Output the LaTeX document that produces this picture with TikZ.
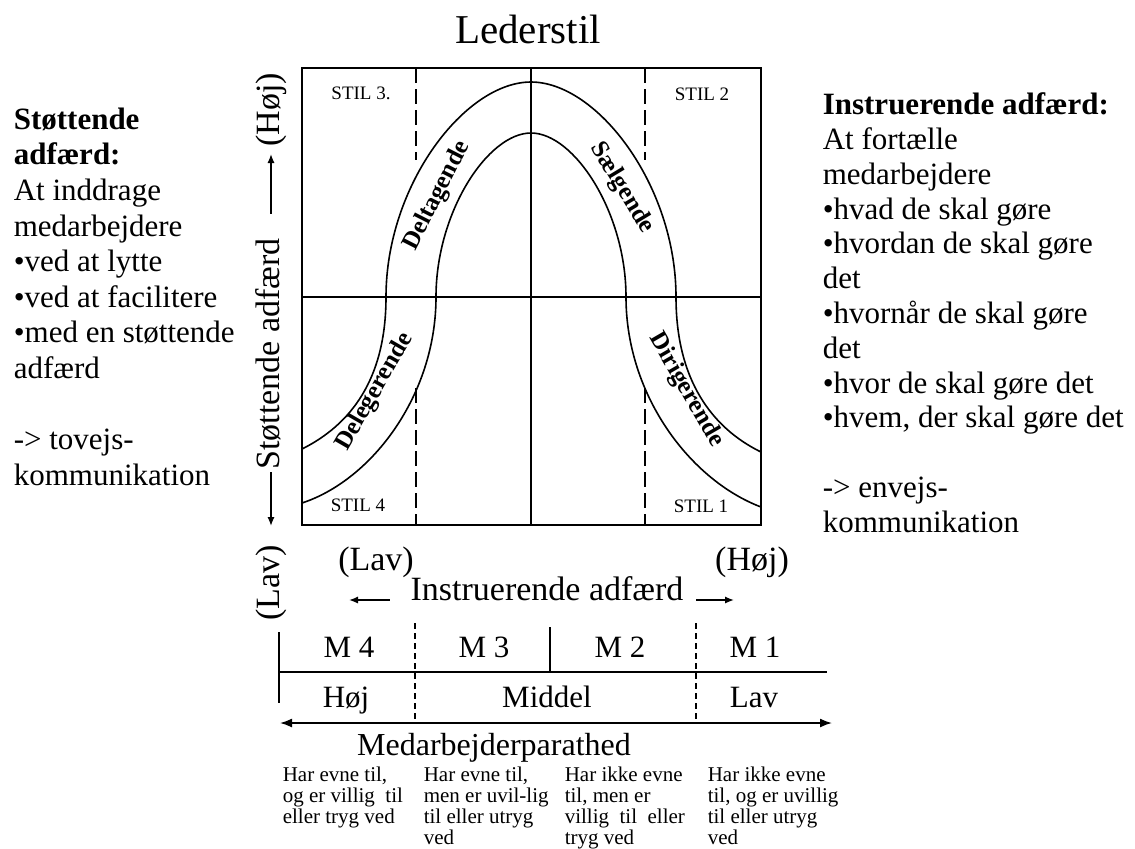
\documentclass[tikz,border=0pt]{standalone}
\usepackage{fontspec}
\setmainfont{Liberation Serif}
\usetikzlibrary{arrows.meta}
\begin{document}
\begin{tikzpicture}[x=.5pt,y=-.5pt,line width=.8pt,
  txt/.style={inner sep=0pt,anchor=base},
  ax/.style={txt,font=\fontsize{17}{20}\selectfont},
  cell/.style={txt,font=\fontsize{15.5}{18}\selectfont},
  band/.style={inner sep=0pt,font=\fontsize{12.5}{14}\selectfont\bfseries},
  stil/.style={txt,font=\fontsize{9.5}{11}\selectfont},
  side/.style={inner sep=0pt,anchor=north west,align=left,font=\fontsize{15.5}{17.8}\selectfont},
  desc/.style={inner sep=0pt,anchor=north west,align=left,font=\fontsize{10.5}{10.6}\selectfont},
  bdash/.style={dash pattern=on 7.5pt off 3pt},
  tdash/.style={line width=.6pt,dash pattern=on 3pt off 2pt},
  arr/.style={-{Latex[length=4.5pt,width=3.6pt]}},
  darr/.style={{Latex[length=6pt,width=4.5pt]}-{Latex[length=6pt,width=4.5pt]}}]
\useasboundingbox (0,0) rectangle (1135,848);
\node[txt,font=\fontsize{20.5}{24}\selectfont] (title) at (528,43) {Lederstil};
% frame and quadrants
\coordinate (tl) at (302,68); \coordinate (br) at (761,525);
\coordinate (ml) at (302,297); \coordinate (mr) at (761,297);
\coordinate (mt) at (531,68); \coordinate (mb) at (531,525);
\draw (tl) rectangle (br);
\draw (ml) -- (mr); \draw (mt) -- (mb);
\foreach \x in {416,645}{\draw[bdash] (\x,68) -- (\x,160); \draw[bdash] (\x,388) -- (\x,525);}
% the band
\coordinate (o1) at (302,449); \coordinate (o2) at (386,297); \coordinate (o3) at (531,82);
\coordinate (o4) at (676,297); \coordinate (o5) at (761,452);
\coordinate (i1) at (302,503); \coordinate (i2) at (436,297); \coordinate (i3) at (531,133);
\coordinate (i4) at (626,297); \coordinate (i5) at (761,507);
\draw (o1) .. controls (350,425) and (386,380) .. (o2) .. controls (386,185) and (465,82) .. (o3)
  .. controls (597,82) and (676,185) .. (o4) .. controls (676,380) and (712,428) .. (o5);
\draw (i1) .. controls (372,480) and (436,395) .. (i2) .. controls (436,212) and (488,133) .. (i3)
  .. controls (574,133) and (626,212) .. (i4) .. controls (626,395) and (690,480) .. (i5);
\node[band,rotate=63] (delt) at (437,196) {Deltagende};
\node[band,rotate=-59] (saelg) at (622,188) {Sælgende};
\node[band,rotate=60] (deleg) at (375,392) {Delegerende};
\node[band,rotate=-60] (dirig) at (686,390) {Dirigerende};
\node[stil] (s3) at (361,99) {STIL 3.};
\node[stil] (s2) at (702,100) {STIL 2};
\node[stil] (s4) at (358,511) {STIL 4};
\node[stil] (s1) at (701,512) {STIL 1};
% vertical axis
\node[ax,rotate=90] (hoejV) at (279,110) {(Høj)};
\node[ax,rotate=90] (stoette) at (279,354) {Støttende adfærd};
\node[ax,rotate=90] (lavV) at (279,583) {(Lav)};
\coordinate (vup) at (271,154); \coordinate (vdn) at (271,526);
\draw[arr,shorten <=12pt] (stoette.east -| vup) -- (vup);
\draw[arr,shorten <=1pt] (stoette.west -| vdn) -- (vdn);
% horizontal axis
\node[ax] (lavH) at (376,570) {(Lav)};
\node[ax] (hoejH) at (752,570) {(Høj)};
\node[ax] (instr) at (547,600) {Instruerende adfærd};
\coordinate (al) at (349,600); \coordinate (ar) at (734,600);
\draw[arr,shorten <=10pt] (instr.base west) -- (al);
\draw[arr,shorten <=6pt] (instr.base east) -- (ar);
% readiness table
\coordinate (ta) at (279,632); \coordinate (tb) at (279,703);
\coordinate (tc) at (279,672); \coordinate (td) at (827,672);
\coordinate (pl) at (280,723); \coordinate (pr) at (832,723);
\draw (ta) -- (tb);
\draw (tc) -- (td);
\draw (550,627) -- (550,672);
\foreach \x in {415,696}{\draw[tdash] (\x,623) -- (\x,723);}
\draw[darr] (pl) -- (pr);
\foreach \m/\x in {4/349,3/484,2/620,1/755}{\node[cell] (m\m) at (\x,657) {M \m};}
\node[cell] (rHoej) at (346,707) {Høj};
\node[cell] (rMid) at (547,707) {Middel};
\node[cell] (rLav) at (754,707) {Lav};
\node[txt,font=\fontsize{16}{19}\selectfont] (parat) at (494,755) {Medarbejderparathed};
\node[desc] (d4) at (282,766) {Har evne til,\\og er villig\ \ til\\eller tryg ved};
\node[desc] (d3) at (423,766) {Har evne til,\\men er uvil-lig\\til\ eller utryg\\ved};
\node[desc] (d2) at (564,766) {Har ikke evne\\til, men er\\villig\ \ til\ \ eller\\tryg ved};
\node[desc] (d1) at (707,766) {Har ikke evne\\til, og er uvillig\\til eller utryg\\ved};
% side texts
\node[side] (stoetTxt) at (13,107) {\textbf{Støttende}\\\textbf{adfærd:}\\At inddrage\\medarbejdere\\•ved at lytte\\•ved at facilitere\\•med en støttende\\adfærd\\[17.8pt]-> tovejs-\\kommunikation};
\node[side,font=\fontsize{15.5}{17.4}\selectfont] (instrTxt) at (822,92) {\textbf{Instruerende adfærd:}\\At fortælle\\medarbejdere\\•hvad de skal gøre\\•hvordan de skal gøre\\det\\•hvornår de skal gøre\\det\\•hvor de skal gøre det\\•hvem, der skal gøre det\\[17.4pt]-> envejs-\\kommunikation};
\end{tikzpicture}
\end{document}
